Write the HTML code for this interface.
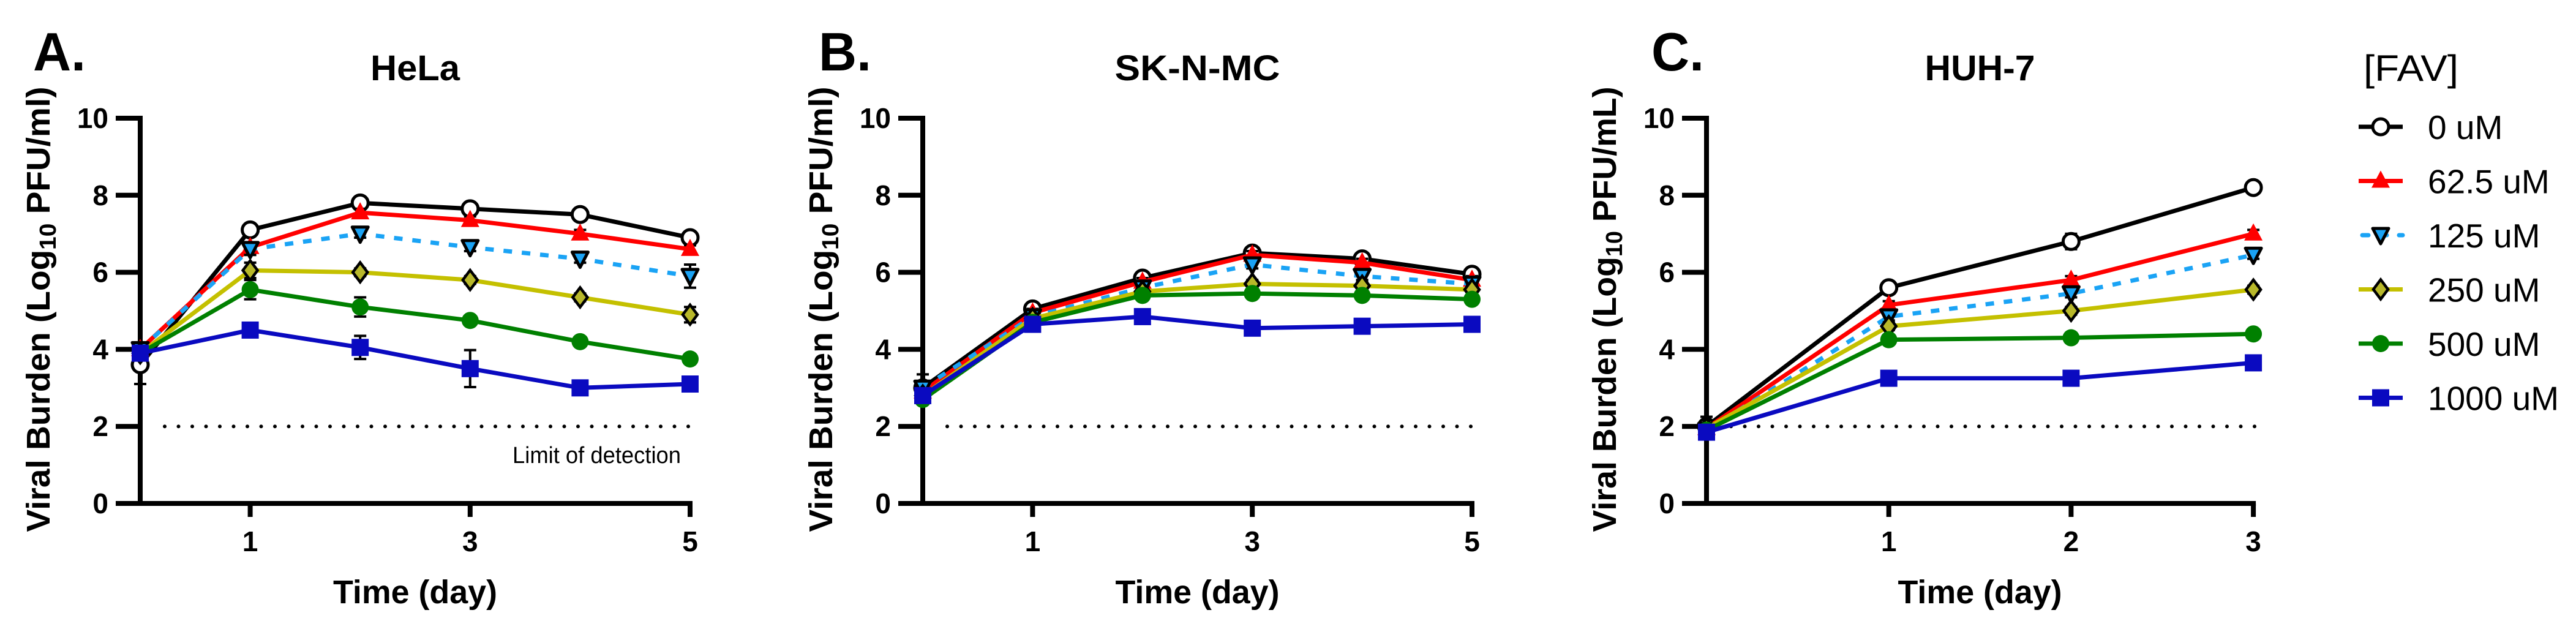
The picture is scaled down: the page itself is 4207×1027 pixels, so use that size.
<!DOCTYPE html>
<html><head><meta charset="utf-8"><style>
html,body{margin:0;padding:0;background:#fff;}
svg{display:block;font-family:"Liberation Sans",Arial,sans-serif;}
</style></head><body>
<svg id="chart" width="4207" height="1027" viewBox="0 0 4207 1027" xmlns="http://www.w3.org/2000/svg"></svg>
<script>
const seriesNames = ["0 uM","62.5 uM","125 uM","250 uM","500 uM","1000 uM"];
const yTicks = [0,2,4,6,8,10];
const daysAB = [0,1,2,3,4,5];
const daysC = [0,1,2,3];
const xTickLabelsAB = [1,3,5];
const xTickLabelsC = [1,2,3];
const helaValues = [
  [3.6,7.1,7.8,7.65,7.5,6.9],
  [4.0,6.65,7.55,7.35,7.0,6.6],
  [4.0,6.6,7.0,6.65,6.35,5.9],
  [3.9,6.05,6.0,5.8,5.35,4.9],
  [3.9,5.55,5.1,4.75,4.2,3.75],
  [3.9,4.5,4.05,3.5,3.0,3.1]
];
const helaErr = [
  [0.5,0.1,0.1,0.1,0.1,0.1],
  [0.1,0.1,0.1,0.1,0.1,0.1],
  [0.1,0.15,0.1,0.1,0.1,0.3],
  [0.1,0.2,0.1,0.1,0.1,0.2],
  [0.1,0.25,0.25,0.1,0.1,0.1],
  [0.1,0.1,0.3,0.48,0.15,0.1]
];
const sknmcValues = [
  [3.0,5.05,5.85,6.5,6.35,5.95],
  [2.9,4.95,5.75,6.45,6.25,5.8],
  [3.0,4.85,5.6,6.2,5.9,5.7],
  [2.8,4.8,5.5,5.7,5.65,5.55],
  [2.7,4.7,5.4,5.45,5.4,5.3],
  [2.8,4.65,4.85,4.55,4.6,4.65]
];
const sknmcErr = [
  [0.1,0.1,0.1,0.1,0.1,0.15],
  [0.1,0.1,0.1,0.1,0.1,0.1],
  [0.35,0.1,0.1,0.1,0.1,0.1],
  [0.1,0.1,0.1,0.1,0.1,0.1],
  [0.1,0.1,0.1,0.1,0.1,0.1],
  [0.1,0.1,0.1,0.1,0.1,0.1]
];
const huhValues = [
  [2.0,5.6,6.8,8.2],
  [1.95,5.15,5.8,7.0],
  [1.9,4.85,5.45,6.45],
  [1.95,4.6,5.0,5.55],
  [1.9,4.25,4.3,4.4],
  [1.85,3.25,3.25,3.65]
];
const huhErr = [
  [0.25,0.1,0.2,0.1],
  [0.1,0.1,0.1,0.1],
  [0.1,0.1,0.1,0.1],
  [0.1,0.1,0.1,0.1],
  [0.1,0.1,0.1,0.1],
  [0.1,0.1,0.1,0.1]
];
const lodValue = 2;

const NS="http://www.w3.org/2000/svg";
const svg=document.getElementById('chart');
function mk(tag,attrs,parent){const e=document.createElementNS(NS,tag);for(const k in attrs)e.setAttribute(k,attrs[k]);(parent||svg).appendChild(e);return e;}
const styles=[
 {color:"#000000",marker:"circle",fill:"#ffffff",stroke:"#000000",dash:null},
 {color:"#ff0000",marker:"tri",fill:"#ff0000",stroke:"#ff0000",dash:null},
 {color:"#1aa3f5",marker:"itri",fill:"#1aa3f5",stroke:"#000000",dash:"14 16"},
 {color:"#c4c000",marker:"diamond",fill:"#b8b82a",stroke:"#000000",dash:null},
 {color:"#008000",marker:"dot",fill:"#008000",stroke:"#008000",dash:null},
 {color:"#0a0ac0",marker:"square",fill:"#0a0ac0",stroke:"#0a0ac0",dash:null}
];
function marker(g,type,x,y,st){
 let e;
 if(type==="circle") e=mk('circle',{cx:x,cy:y,r:13,fill:st.fill,stroke:st.stroke,'stroke-width':5},g);
 else if(type==="dot") e=mk('circle',{cx:x,cy:y,r:14,fill:st.fill},g);
 else if(type==="square") e=mk('rect',{x:x-14,y:y-14,width:28,height:28,fill:st.fill},g);
 else if(type==="tri") e=mk('polygon',{points:`${x},${y-17} ${x-15},${y+11} ${x+15},${y+11}`,fill:st.fill},g);
 else if(type==="itri") e=mk('polygon',{points:`${x-13},${y-11} ${x+13},${y-11} ${x},${y+14}`,fill:st.fill,stroke:st.stroke,'stroke-width':5,'stroke-linejoin':'round'},g);
 else e=mk('polygon',{points:`${x},${y-16} ${x+12},${y} ${x},${y+16} ${x-12},${y}`,fill:st.fill,stroke:st.stroke,'stroke-width':4.5},g);
 return e;
}
function panel(cfg){
 const g=mk('g',{});
 
 
 const y0=822,y10=193;
 const ys=v=>y0+(y10-y0)*v/10;
 const xs=d=>cfg.x0+cfg.step*d;
 const xEnd=xs(cfg.days[cfg.days.length-1]);
 const L=mk('text',{x:cfg.x0-175+cfg.letterDx,y:115,'font-size':88,'font-weight':'bold',textLength:86,lengthAdjust:'spacingAndGlyphs'},g);L.textContent=cfg.letter;
 
 const T=mk('text',{x:(cfg.x0+xEnd)/2,y:131,'font-size':58,'font-weight':'bold','text-anchor':'middle',textLength:cfg.titleW,lengthAdjust:'spacingAndGlyphs'},g);T.textContent=cfg.title;
 
 const yt=mk('text',{transform:`translate(${cfg.x0-148},${505}) rotate(-90)`,'font-size':54,'font-weight':'bold','text-anchor':'middle',textLength:727,lengthAdjust:'spacingAndGlyphs'},g);
 
 yt.appendChild(document.createTextNode('Viral Burden (Log'));
 const sub=mk('tspan',{'font-size':38,dy:10},yt);sub.textContent='10';
 const rest=mk('tspan',{dy:-10},yt);rest.textContent=' PFU/'+cfg.unit+')';
 const xt=mk('text',{x:(cfg.x0+xEnd)/2,y:985,'font-size':54,'font-weight':'bold','text-anchor':'middle',textLength:268,lengthAdjust:'spacingAndGlyphs'},g);xt.textContent='Time (day)';
 
 const ya=mk('line',{x1:cfg.x0,y1:y10-4,x2:cfg.x0,y2:y0+4,stroke:'#000','stroke-width':8},g);
 
 const xa=mk('line',{x1:cfg.x0-40,y1:y0,x2:xEnd+4,y2:y0,stroke:'#000','stroke-width':8},g);
 
 yTicks.forEach(t=>{
  mk('line',{x1:cfg.x0-40,y1:ys(t),x2:cfg.x0,y2:ys(t),stroke:'#000','stroke-width':8},g);
  const tl=mk('text',{x:cfg.x0-52,y:ys(t)+16,'font-size':46,'font-weight':'bold','text-anchor':'end'},g);tl.textContent=t;
  
 });
 cfg.xLabels.forEach(t=>{
  mk('line',{x1:xs(t),y1:y0,x2:xs(t),y2:y0+22,stroke:'#000','stroke-width':8},g);
  const tl=mk('text',{x:xs(t),y:900,'font-size':46,'font-weight':'bold','text-anchor':'middle'},g);tl.textContent=t;
  
 });
 const lod=mk('line',{x1:cfg.x0+40,y1:ys(lodValue),x2:xEnd+4,y2:ys(lodValue),stroke:'#000','stroke-width':6,'stroke-linecap':'round','stroke-dasharray':'0 22.5'},g);
 
 if(cfg.lodText){const lt=mk('text',{x:xEnd-15,y:ys(lodValue)+60,'font-size':38,'text-anchor':'end',textLength:275,lengthAdjust:'spacingAndGlyphs'},g);lt.textContent='Limit of detection';
  }
 cfg.values.forEach((vals,si)=>{
  const st=styles[si];
  const sg=mk('g',{},g);
  
  
  vals.forEach((v,i)=>{const e=cfg.err[si][i];const x=xs(cfg.days[i]);
   mk('line',{x1:x,y1:ys(v+e),x2:x,y2:ys(v-e),stroke:'#000','stroke-width':4},sg);
   mk('line',{x1:x-10,y1:ys(v+e),x2:x+10,y2:ys(v+e),stroke:'#000','stroke-width':4},sg);
   mk('line',{x1:x-10,y1:ys(v-e),x2:x+10,y2:ys(v-e),stroke:'#000','stroke-width':4},sg);
  });
  const pts=vals.map((v,i)=>xs(cfg.days[i])+','+ys(v)).join(' ');
  const pl=mk('polyline',{points:pts,fill:'none',stroke:st.color,'stroke-width':7,'stroke-linejoin':'round'},sg);
  if(st.dash)pl.setAttribute('stroke-dasharray',st.dash);
  
  vals.forEach((v,i)=>{const m=marker(sg,st.marker,xs(cfg.days[i]),ys(v),st);
   
   });
 });
}
panel({name:'panel-a-hela',letter:'A.',letterDx:0,title:'HeLa',titleW:146,unit:'ml',x0:229,step:179.6,days:daysAB,xLabels:xTickLabelsAB,values:helaValues,err:helaErr,lodText:true});
panel({name:'panel-b-sk-n-mc',letter:'B.',letterDx:5,title:'SK-N-MC',titleW:270,unit:'ml',x0:1507,step:179.4,days:daysAB,xLabels:xTickLabelsAB,values:sknmcValues,err:sknmcErr,lodText:false});
panel({name:'panel-c-huh-7',letter:'C.',letterDx:85,title:'HUH-7',titleW:180,unit:'mL',x0:2787,step:297.7,days:daysC,xLabels:xTickLabelsC,values:huhValues,err:huhErr,lodText:false});
const lg=mk('g',{});


const lt=mk('text',{x:3860,y:132,'font-size':60,textLength:155,lengthAdjust:'spacingAndGlyphs'},lg);lt.textContent='[FAV]';

seriesNames.forEach((n,i)=>{
 const y=207+88.5*i;const st=styles[i];
 const eg=mk('g',{},lg);
 
 
 const l=mk('line',{x1:3852,y1:y,x2:3924,y2:y,stroke:st.color,'stroke-width':7},eg);
 if(st.dash){l.setAttribute('stroke-dasharray','10 20');l.setAttribute('stroke-dashoffset','-6');l.setAttribute('stroke-linecap','round');}
 marker(eg,st.marker,3888,y,st);
 const t=mk('text',{x:3965,y:y+20,'font-size':55},eg);t.textContent=n;
});
</script>
</body></html>
